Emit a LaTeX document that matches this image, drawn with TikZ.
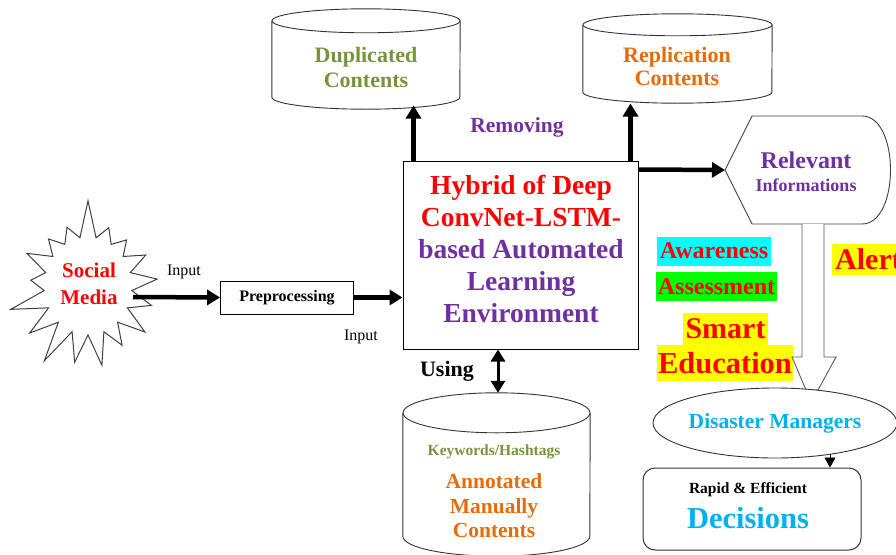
\documentclass[tikz,border=0pt]{standalone}
\usepackage{fontspec}
\setmainfont{Liberation Serif}
\usetikzlibrary{arrows.meta,shapes.symbols,shapes.geometric}
\definecolor{cred}{HTML}{FF0000}
\definecolor{cpurple}{HTML}{7030A0}
\definecolor{cgreen}{HTML}{77933C}
\definecolor{corange}{HTML}{E46C0A}
\definecolor{ccyan}{HTML}{00B0F0}
\definecolor{bgcyan}{HTML}{00FFFF}
\definecolor{bggreen}{HTML}{00FF00}
\definecolor{bgyellow}{HTML}{FFFF00}
\newcommand\cylpath[3]{%
  \draw[cylline] (#1.north west) -- (#1.south west)
    arc[start angle=180, end angle=360, x radius=#2pt, y radius=#3pt] -- (#1.north east);
  \draw[cylline] (#1.north) ellipse[x radius=#2pt, y radius=#3pt];}
\begin{document}
\begin{tikzpicture}[x=1pt,y=-1pt,
  big/.style={-{Triangle[length=13pt,width=15pt]}, line width=4.5pt},
  cylline/.style={draw=black!80, line width=0.9pt},
  body/.style={inner sep=0pt, draw=none},
  txt/.style={inner sep=0pt, align=center, font=\bfseries},
  hl/.style={inner sep=0pt, text=cred, font=\bfseries}]
\useasboundingbox (0,0) rectangle (896,554);

% Social media star
\node[starburst, draw=black!75, line width=1pt, fill=white, minimum width=168pt,
  minimum height=178pt, starburst points=17, starburst point height=40pt,
  random starburst=7, inner sep=0pt] (sm) at (88,286) {};
\node[txt, text=cred, font=\bfseries\fontsize{21}{27}\selectfont] (smtxt) at (89,284) {Social\\Media};
\coordinate (smout) at (133,297);

% Preprocessing
\node[draw, line width=0.9pt, minimum width=133pt, minimum height=33pt, inner sep=0pt,
  font=\bfseries\fontsize{16}{18}\selectfont] (pre) at (287,297.5) {Preprocessing};
\node[inner sep=0pt, font=\fontsize{16}{18}\selectfont] (in1) at (184,272) {Input};
\node[inner sep=0pt, font=\fontsize{16}{18}\selectfont] (in2) at (361,337) {Input};

% Main box
\node[draw, line width=1pt, minimum width=235pt, minimum height=188pt, inner sep=0pt] (main) at (520.5,255) {};
\node[txt, font=\bfseries\fontsize{27.5}{32}\selectfont] (maintxt) at (521,249)
  {\color{cred}Hybrid of Deep\\\color{cred}ConvNet-LSTM-\\\color{cpurple}based Automated\\\color{cpurple}Learning\\\color{cpurple}Environment};

\draw[big] (smout) -- (pre.west);
\draw[big] (pre.east) -- (pre.east -| main.west);

% Duplicated cylinder
\node[body, minimum width=188pt, minimum height=76pt] (dup) at (366,59) {};
\cylpath{dup}{94}{12}
\node[txt, text=cgreen, font=\bfseries\fontsize{22}{25}\selectfont] (duptxt) at (366,67.5) {Duplicated\\Contents};

% Replication cylinder
\node[body, minimum width=189pt, minimum height=67pt] (rep) at (677.5,58.5) {};
\cylpath{rep}{94.5}{11}
\node[txt, text=corange, font=\bfseries\fontsize{22}{23}\selectfont] (reptxt) at (677,66.5) {Replication\\Contents};

\draw[big] ([xshift=11pt]main.north west) -- ++(0,-55);
\draw[big] ([xshift=-8pt]main.north east) -- ++(0,-57);
\node[txt, text=cpurple, font=\bfseries\fontsize{21.5}{24}\selectfont] (rem) at (517,127) {Removing};

% Relevant informations
\coordinate (relL) at (725,170);
\draw[draw=black!75, line width=0.9pt, fill=white] (relL) -- (752,116) -- (862,116)
  .. controls (900,116) and (900,224) .. (862,224) -- (752,224) -- cycle;
\node[txt, text=cpurple, font=\bfseries\fontsize{24}{26}\selectfont] (rel) at (806,160) {Relevant};
\node[txt, text=cpurple, font=\bfseries\fontsize{18}{20}\selectfont] (relinf) at (806,185) {Informations};
\draw[big] ([yshift=-9pt]main.north east) -- (relL);

% Highlighted words
\node[hl, fill=bgcyan, minimum width=114pt, minimum height=29pt, font=\bfseries\fontsize{24}{26}\selectfont] (aw) at (714,251) {Awareness};
\node[hl, fill=bggreen, minimum width=121pt, minimum height=29pt, font=\bfseries\fontsize{24}{26}\selectfont] (as) at (716.5,286.5) {Assessment};
\node[hl, fill=bgyellow, minimum width=85pt, minimum height=32pt, font=\bfseries\fontsize{30}{32}\selectfont] (sma) at (725.5,329) {Smart};
\node[hl, fill=bgyellow, minimum width=136pt, minimum height=36pt, font=\bfseries\fontsize{30.5}{32}\selectfont] (edu) at (725,363) {Education};
\node[hl, fill=bgyellow, anchor=west, minimum height=31pt, inner xsep=3pt, font=\bfseries\fontsize{30}{32}\selectfont] (al) at (832,259.5) {Alert};

% Block arrow
\draw[draw=black!65, line width=0.9pt, fill=white] (802,224) -- (802,357) -- (792,357) -- (806,390)
  -- (818,390) -- (836,357) -- (824,357) -- (824,224);

% Disaster managers
\node[ellipse, draw=black!80, line width=0.9pt, fill=white, minimum width=242pt, minimum height=70pt,
  inner sep=0pt, text=ccyan, font=\bfseries\fontsize{21.5}{24}\selectfont] (dm) at (775,423) {Disaster Managers};

% Decisions
\node[draw=black!80, line width=1pt, rounded corners=12pt, minimum width=218pt, minimum height=82pt, inner sep=0pt] (dec) at (752,509) {};
\node[txt, font=\bfseries\fontsize{15.5}{17}\selectfont] (rapid) at (748,490) {Rapid \& Efficient};
\node[txt, text=ccyan, font=\bfseries\fontsize{30.5}{32}\selectfont] (dectxt) at (748,518) {Decisions};
\draw[-{Triangle[length=10pt,width=11pt]}, line width=0.8pt] ([xshift=78pt,yshift=14pt]dec.north) -- ([xshift=78pt]dec.north);

% Annotated cylinder
\node[body, minimum width=187pt, minimum height=123pt] (ann) at (496.5,474.5) {};
\cylpath{ann}{93.5}{20}
\node[txt, text=cgreen, font=\bfseries\fontsize{15.5}{17}\selectfont] (kw) at (494,452) {Keywords/Hashtags};
\node[txt, text=corange, font=\bfseries\fontsize{21.5}{24.5}\selectfont] (anntxt) at (494,506) {Annotated\\Manually\\Contents};

\node[txt, font=\bfseries\fontsize{22}{24}\selectfont] (using) at (447,371) {Using};
\draw[{Triangle[length=12pt,width=14pt]}-{Triangle[length=12pt,width=14pt]}, line width=3pt]
  ([xshift=-22.5pt]main.south) -- ([xshift=1.5pt,yshift=20pt]ann.north);
\end{tikzpicture}
\end{document}
